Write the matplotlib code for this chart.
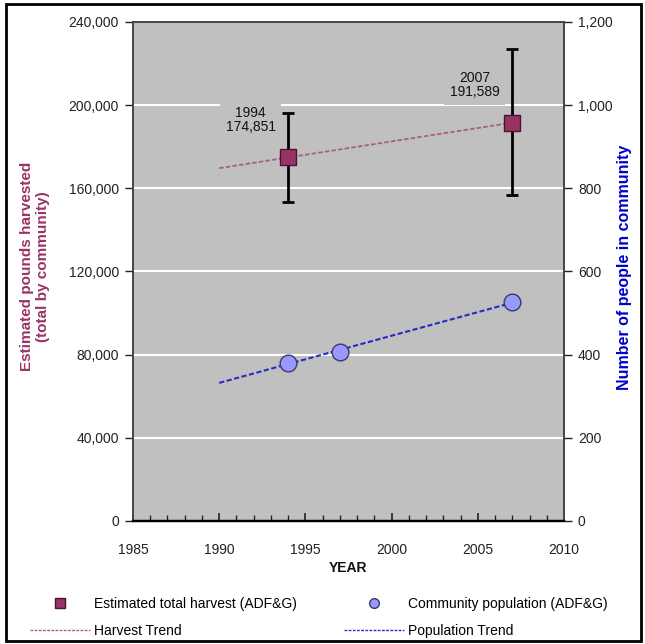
import numpy as np
import matplotlib
matplotlib.use("Agg")
import matplotlib.pyplot as plt
from matplotlib.ticker import FuncFormatter, MultipleLocator
from matplotlib.patches import Rectangle
from matplotlib.lines import Line2D

plt.rcParams['font.family'] = ['Liberation Sans', 'DejaVu Sans']

# ---- data ----
harvest_years = [1994, 2007]
harvest_values = [174851, 191589]
harvest_err_low = [153600, 156800]
harvest_err_high = [196200, 227000]

pop_years = [1994, 1997, 2007]
pop_values = [381, 407, 526]

trend_start = 1990
trend_end = 2007

left_ticks = [0, 40000, 80000, 120000, 160000, 200000, 240000]
right_ticks = [0, 200, 400, 600, 800, 1000, 1200]
x_ticks = [1985, 1990, 1995, 2000, 2005, 2010]

# ---- figure ----
W, H = 645, 644
fig = plt.figure(figsize=(W / 100, H / 100), dpi=100)
fig.patch.set_facecolor('white')
ax = fig.add_axes([133 / W, 1 - 521 / H, (564 - 133) / W, (521 - 22) / H])
ax.set_facecolor('#c0c0c0')
ax2 = ax.twinx()

# gridlines (white) from left-axis ticks
for v in left_ticks[1:-1]:
    ax.axhline(v, color='white', lw=1.5, zorder=0.5)

# harvest trend
hx = np.array(harvest_years, float)
hy = np.array(harvest_values, float)
hc = np.polyfit(hx, hy, 1)
tx = np.array([trend_start, trend_end], float)
ax.plot(tx, np.polyval(hc, tx), color='#a8607f', lw=1.3, dashes=(2.5, 1.2), zorder=2)

# harvest error bars and markers
yerr = [np.array(harvest_values) - np.array(harvest_err_low),
        np.array(harvest_err_high) - np.array(harvest_values)]
ax.errorbar(harvest_years, harvest_values, yerr=yerr, fmt='none', ecolor='black',
            elinewidth=2, capsize=4, capthick=2, zorder=3)
ax.plot(harvest_years, harvest_values, 's', ms=12, mfc='#993366', mec='#4a1430',
        mew=1.0, zorder=4, ls='none')

# data labels
for x, y in zip(harvest_years, harvest_values):
    ax.annotate(f"{x}\n{y:,}", xy=(x, y), xytext=(-27, 27), textcoords='offset points',
                ha='center', va='center', fontsize=10, color='#111111', linespacing=1.05,
                bbox=dict(boxstyle='square,pad=0.4', fc='#c0c0c0', ec='none'), zorder=5)

ax.set_xlim(1985, 2010)
ax.set_ylim(0, 240000)
ax.set_xticks(x_ticks)
ax.xaxis.set_minor_locator(MultipleLocator(1))
ax.set_yticks(left_ticks)
ax.yaxis.set_major_formatter(FuncFormatter(lambda v, p: f"{int(v):,}"))
ax.tick_params(axis='x', which='major', direction='in', length=6, width=1.2,
               labelsize=10, pad=16, colors='#222222')
ax.tick_params(axis='x', which='minor', direction='in', length=4, width=1.0, color='#222222')
ax.tick_params(axis='y', direction='out', length=6, width=1.0, labelsize=10,
               pad=4, colors='#222222')

# population trend and points on right axis
px = np.array(pop_years, float)
py = np.array(pop_values, float)
pc = np.polyfit(px, py, 1)
ax2.plot(tx, np.polyval(pc, tx), color='#2a2ac8', lw=1.5, dashes=(2.5, 1.2), zorder=2)
ax2.plot(pop_years, pop_values, 'o', ms=12, mfc='#9999ff', mec='#3a3a6a', mew=1.0,
         zorder=4, ls='none')
ax2.set_ylim(0, 1200)
ax2.set_yticks(right_ticks)
ax2.yaxis.set_major_formatter(FuncFormatter(lambda v, p: f"{int(v):,}"))
ax2.tick_params(axis='y', direction='out', length=6, width=1.0, labelsize=10,
                pad=4, colors='#222222')

for a in (ax, ax2):
    for s in ('left', 'right', 'top'):
        a.spines[s].set_color('#444444')
        a.spines[s].set_linewidth(1.2)
    a.spines['bottom'].set_color('black')
    a.spines['bottom'].set_linewidth(1.6)

ax.set_xlabel('YEAR', fontsize=10, fontweight='bold', color='#111111', labelpad=3)
ax.set_ylabel('Estimated pounds harvested\n(total by community)', fontsize=11,
              fontweight='bold', color='#993366', linespacing=1.2)
ax.yaxis.set_label_coords(-0.192, 0.51)
ax2.set_ylabel('Number of people in community', fontsize=11.5, fontweight='bold',
               color='#0000cc', rotation=90)
ax2.yaxis.set_label_coords(1.124, 0.508)

# legend
h1 = Line2D([], [], marker='s', ls='none', ms=7, mfc='#993366', mec='#4a1430')
h2 = Line2D([], [], color='#a8607f', lw=1.0, dashes=(2, 1))
h3 = Line2D([], [], marker='o', ls='none', ms=7, mfc='#9999ff', mec='#3a3a6a')
h4 = Line2D([], [], color='#2a2ac8', lw=1.0, dashes=(2, 1))
fig.legend([h1, h2, h3, h4],
           ['Estimated total harvest (ADF&G)', 'Harvest Trend',
            'Community population (ADF&G)', 'Population Trend'],
           ncol=2, loc='upper left', bbox_to_anchor=(30 / W, 1 - 597 / H),
           frameon=False, fontsize=10, handlelength=4.3, handletextpad=0.3,
           columnspacing=3.4, labelspacing=0.95, borderpad=0, borderaxespad=0)

# outer border
fig.patches.append(Rectangle((6 / W, 3 / H), (641 - 6) / W, (640 - 3) / H,
                             transform=fig.transFigure, fill=False, ec='black', lw=2))

fig.savefig('out.png', dpi=100)
